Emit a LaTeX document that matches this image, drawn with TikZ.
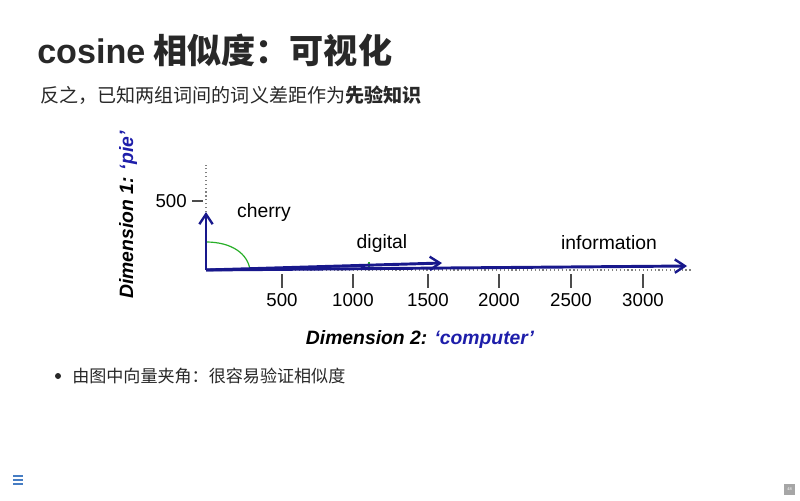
\documentclass[tikz,border=0pt]{standalone}
\usepackage{fontspec}
\setmainfont{Liberation Sans}
\newfontfamily\cjk{Noto Sans CJK SC}
\usetikzlibrary{arrows.meta}
\definecolor{vecblue}{RGB}{24,24,140}
\definecolor{lblblue}{RGB}{30,30,170}
\definecolor{txt}{RGB}{40,40,40}
\definecolor{arcgreen}{RGB}{40,175,40}
\definecolor{iconblue}{RGB}{70,125,195}
\tikzset{
  title/.style={anchor=west, inner sep=0pt, text=txt, font=\cjk\bfseries\fontsize{25.6}{30}\selectfont},
  body/.style={anchor=west, inner sep=0pt, text=txt, font=\cjk\fontsize{14.3}{17}\selectfont},
  plotlbl/.style={inner sep=0pt, font=\fontsize{14.5}{17}\selectfont},
  ticklbl/.style={inner sep=0pt, font=\fontsize{14}{17}\selectfont},
  axislbl/.style={inner sep=0pt, font=\bfseries\itshape\fontsize{14.5}{17}\selectfont},
  vector/.style={draw=vecblue, line width=2.2pt, -{Straight Barb[length=7.5pt,width=10pt,line width=1.8pt]}},
  guide/.style={draw=gray, dotted, line width=0.9pt},
  tickmark/.style={draw=black!70, line width=0.8pt},
}
\begin{document}
\begin{tikzpicture}[x=0.75pt,y=-0.75pt]
\useasboundingbox (0,0) rectangle (800,500);
\fill[white] (0,0) rectangle (800,500);

% heading and lead line
\node[title] (head) at (37,50) {{\rmfamily\bfseries cosine} 相似度：可视化};
\node[body] (lead) at (40,95) {反之，已知两组词间的词义差距作为{\bfseries 先验知识}};

% axes
\coordinate (O) at (206,270);
\coordinate (ytop) at (206,165);
\coordinate (xend) at (692,270);
\draw[guide] (O) -- (ytop);
\draw[guide] (O) -- (xend);

% y tick
\coordinate (yt1) at (192,201);
\coordinate (yt2) at (203,201);
\draw[tickmark] (yt1) -- (yt2);
\node[ticklbl, anchor=east] (y500) at (187,201) {500};

% x ticks
\foreach \x/\v in {282/500,353/1000,428/1500,499/2000,571/2500,643/3000}{
  \coordinate (xt\v a) at (\x,274);
  \coordinate (xt\v b) at (\x,288);
  \draw[tickmark] (xt\v a) -- (xt\v b);
  \node[ticklbl] (xl\v) at (\x,300) {\v};
}

% angle marks
\coordinate (a1) at (206,242);
\coordinate (a2) at (250,270);
\draw[arcgreen, line width=0.9pt] (a1) .. controls (232,242) and (248,254) .. (a2);
\coordinate (g1) at (369,262);
\coordinate (g2) at (369,268);
\draw[arcgreen, line width=1pt] (g1) -- (g2);

% word vectors
\coordinate (cherry) at (206,212);
\coordinate (digital) at (442,263);
\coordinate (information) at (687,266);
\draw[vector] (O) -- (information);
\draw[vector] (O) -- (digital);
\draw[vector] (O) -- (cherry);

\node[plotlbl] (lc) at (264,212) {cherry};
\node[plotlbl] (ld) at (382,243) {digital};
\node[plotlbl] (li) at (609,243) {information};

% axis titles
\node[axislbl] (xlab) at (420,339) {Dimension 2: \textcolor{lblblue}{‘computer’}};
\node[axislbl, rotate=90] (ylab) at (128,215) {Dimension 1: \textcolor{lblblue}{‘pie’}};

% bullet
\fill[txt] (58,376) circle (3);
\node[body, font=\cjk\fontsize{12.8}{16}\selectfont] (bul) at (72,376) {由图中向量夹角：很容易验证相似度};

% menu icon
\foreach \yy in {476,480,484}{
  \draw[iconblue, line width=1.1pt] (13,\yy) -- (23,\yy);
}

% page badge
\fill[gray!70] (784,484) rectangle (795,495);
\node[inner sep=0pt, text=white, font=\fontsize{3}{3}\selectfont] (pg) at (789.5,489.5) {48};
\end{tikzpicture}
\end{document}
